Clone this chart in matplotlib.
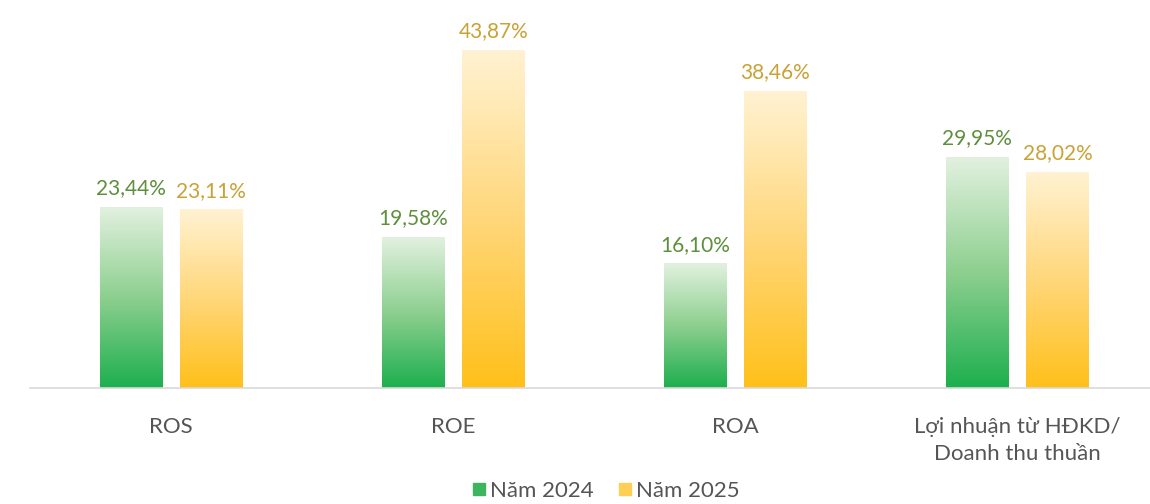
import matplotlib.pyplot as plt
import matplotlib.colors as mcolors
from matplotlib.lines import Line2D
import numpy as np

categories = ["ROS", "ROE", "ROA", "Lợi nhuận từ HĐKD/\nDoanh thu thuần"]
values_2024 = [23.44, 19.58, 16.10, 29.95]
values_2025 = [23.11, 43.87, 38.46, 28.02]
labels_2024 = ["23,44%", "19,58%", "16,10%", "29,95%"]
labels_2025 = ["23,11%", "43,87%", "38,46%", "28,02%"]
series_names = ["Năm 2024", "Năm 2025"]

plt.rcParams['font.family'] = ['Lato', 'DejaVu Sans']

fig = plt.figure(figsize=(11.5, 5.04), dpi=100)
ax = fig.add_axes([30 / 1150, 1 - 388 / 504, 1 - 30 / 1150, 388 / 504])

green_map = mcolors.LinearSegmentedColormap.from_list("g", ["#1daf4e", "#8dcf8f", "#e2f1df"])
yellow_map = mcolors.LinearSegmentedColormap.from_list("y", ["#ffc01a", "#ffd77a", "#fff2d2"])
grad = np.linspace(0, 1, 256).reshape(-1, 1)

width = 0.223
offset = 0.142
x = np.arange(len(categories))

for xi, v, lab in zip(x - offset, values_2024, labels_2024):
    ax.imshow(grad, cmap=green_map, origin="lower", aspect="auto",
              extent=(xi - width / 2, xi + width / 2, 0, v), zorder=2)
    ax.text(xi, v + 1.2, lab, ha="center", va="bottom", fontsize=15, color="#5e8f3c")

for xi, v, lab in zip(x + offset, values_2025, labels_2025):
    ax.imshow(grad, cmap=yellow_map, origin="lower", aspect="auto",
              extent=(xi - width / 2, xi + width / 2, 0, v), zorder=2)
    ax.text(xi, v + 1.2, lab, ha="center", va="bottom", fontsize=15, color="#c9a235")

ax.set_xlim(-0.5, 3.47)
ax.set_ylim(0, 50.36)
for s in ["top", "right", "left"]:
    ax.spines[s].set_visible(False)
ax.spines["bottom"].set_color("#d9d9d9")
ax.spines["bottom"].set_linewidth(1.2)
ax.set_yticks([])
ax.set_xticks(x)
ax.set_xticklabels(categories, fontsize=16, color="#555555", linespacing=1.4, va="top")
ax.tick_params(axis="x", length=0, pad=21)

handles = [Line2D([], [], marker="s", linestyle="", markersize=8, color="#3cb55e"),
           Line2D([], [], marker="s", linestyle="", markersize=8, color="#ffcf55")]
fig.legend(handles, series_names, loc="center", bbox_to_anchor=(605 / 1150, 1 - 491 / 504),
           ncol=2, frameon=False, fontsize=16, labelcolor="#555555",
           handletextpad=0.1, columnspacing=1.0, handlelength=0.8)

fig.savefig("out.png", dpi=100)
